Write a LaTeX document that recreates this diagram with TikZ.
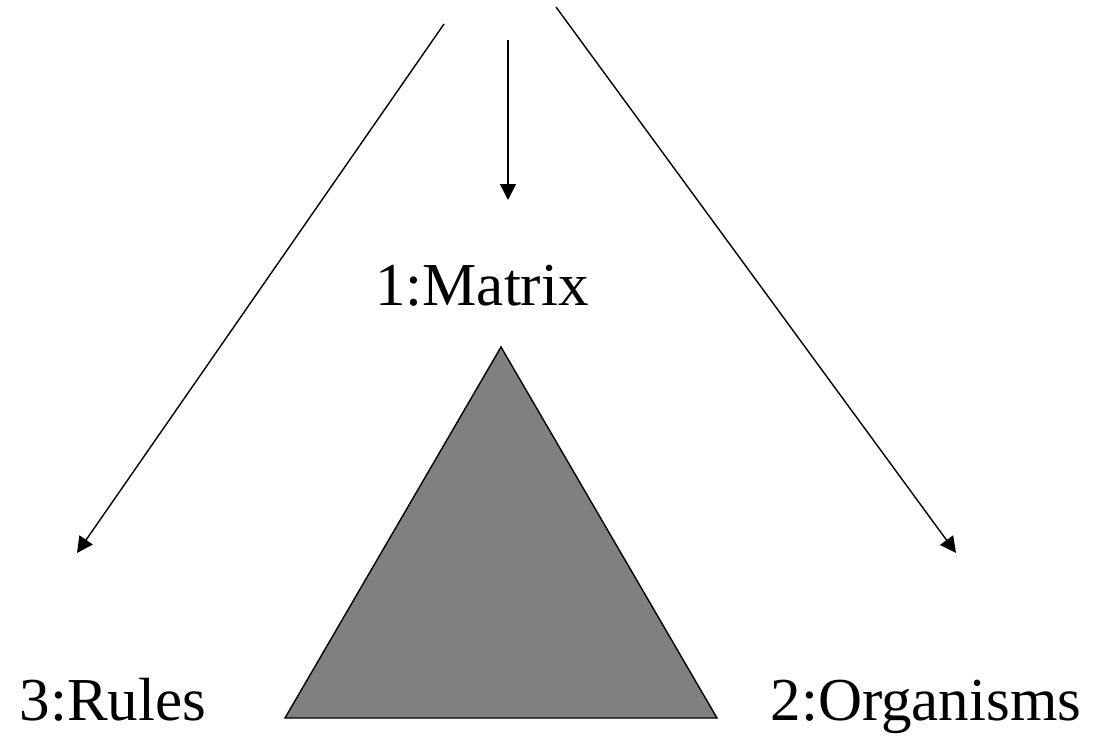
\documentclass[tikz,border=0pt]{standalone}
\usepackage{fontspec}
\setmainfont{Liberation Serif}
\usetikzlibrary{arrows.meta}
\begin{document}
\begin{tikzpicture}[x=1pt,y=-1pt,
  lbl/.style={inner sep=0pt,anchor=base,font=\fontsize{61}{70}\selectfont},
  conn/.style={line width=1.4pt,-{Triangle[length=16pt,width=16pt]}},
  tri/.style={fill={rgb,255:red,128;green,128;blue,128},draw=black,line width=1.4pt,line join=miter}]
\useasboundingbox (0,0) rectangle (1100,736);
\node[lbl] (matrix) at (482,305) {1:Matrix};
\node[lbl] (rules) at (113,720) {3:Rules};
\node[lbl] (organisms) at (926,720) {2:Organisms};
\coordinate (lsrc) at (444,24);
\coordinate (ltip) at (77,553);
\coordinate (msrc) at (508,40);
\coordinate (mtip) at (508,200);
\coordinate (rsrc) at (556,7);
\coordinate (rtip) at (956,553);
\coordinate (apex) at (501,347);
\coordinate (bl) at (285,718);
\coordinate (br) at (717,718);
\draw[tri] (apex) -- (br) -- (bl) -- cycle;
\draw[conn] (lsrc) -- (ltip);
\draw[conn] (msrc) -- (mtip);
\draw[conn] (rsrc) -- (rtip);
\end{tikzpicture}
\end{document}
